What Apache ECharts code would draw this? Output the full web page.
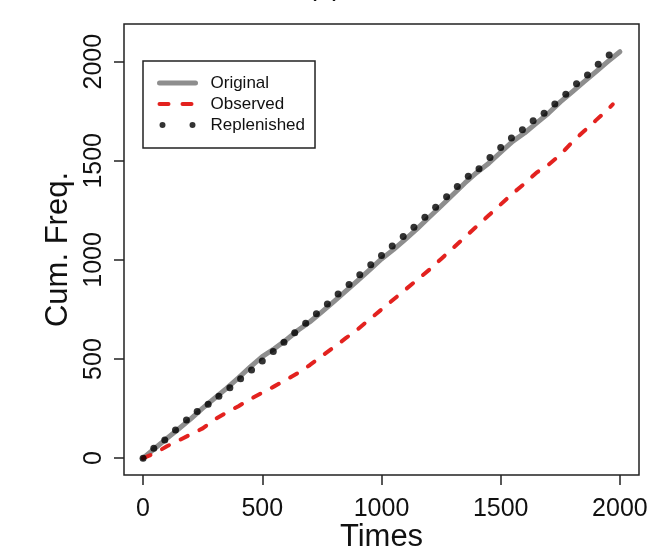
<!DOCTYPE html>
<html>
<head>
<meta charset="utf-8">
<script src="https://cdn.jsdelivr.net/npm/echarts@6/dist/echarts.min.js"></script>
<style>
  html, body { margin: 0; padding: 0; background: #fff; }
  #chart { width: 649px; height: 549px; }
</style>
</head>
<body>
<div id="chart"></div>
<script>
// Cumulative frequency of events over time
const tickValues = [0, 500, 1000, 1500, 2000];

// Original curve, sampled every 50 time units
const originalTimes = [0, 50, 100, 150, 200, 250, 300, 350, 400, 450, 500, 550, 600, 650, 700, 750, 800, 850, 900, 950,
  1000, 1050, 1100, 1150, 1200, 1250, 1300, 1350, 1400, 1450, 1500, 1550, 1600, 1650, 1700, 1750, 1800, 1850, 1900, 1950, 2000];
const originalValues = [0, 50, 100, 148, 198, 252, 302, 352, 405, 460, 512, 552, 596, 645, 688, 738, 790, 842, 895, 950,
  1005, 1052, 1104, 1158, 1215, 1272, 1330, 1388, 1441, 1488, 1543, 1598, 1640, 1690, 1740, 1797, 1848, 1899, 1950, 2001, 2050];

// Observed curve
const observedTimes = [0, 50, 100, 150, 200, 250, 300, 350, 400, 450, 500, 550, 600, 650, 700, 750, 800, 850, 900, 950,
  1000, 1050, 1100, 1150, 1200, 1250, 1300, 1350, 1400, 1450, 1500, 1550, 1600, 1650, 1700, 1750, 1800, 1850, 1900, 1950, 1970];
const observedValues = [0, 25, 60, 90, 120, 150, 195, 230, 262, 298, 330, 362, 395, 430, 470, 515, 560, 605, 650, 700,
  750, 800, 850, 900, 950, 1005, 1060, 1115, 1170, 1225, 1280, 1335, 1385, 1440, 1480, 1530, 1595, 1650, 1705, 1760, 1785];

// Replenished points
const replenishedTimes = [0, 45, 91, 136, 182, 227, 273, 318, 364, 409, 455, 500, 546, 591, 636, 682, 727, 773, 818, 864,
  909, 955, 1000, 1045, 1091, 1136, 1182, 1227, 1273, 1318, 1364, 1409, 1455, 1500, 1545, 1591, 1636, 1682, 1727, 1773,
  1818, 1864, 1909, 1955];
const replenishedValues = [0, 50, 92, 142, 193, 235, 272, 312, 355, 400, 445, 490, 538, 585, 632, 680, 728, 778, 828, 876,
  925, 975, 1022, 1070, 1118, 1165, 1215, 1265, 1318, 1370, 1422, 1460, 1517, 1567, 1615, 1656, 1702, 1740, 1787, 1836,
  1888, 1933, 1987, 2034];

const zip = (xs, ys) => xs.map((x, i) => [x, ys[i]]);
const plain = v => String(v);

const FONT = '"Liberation Sans", Arial, Helvetica, sans-serif';
const GRAY = '#8e8e8e';
const RED = '#e3221f';

const chart = echarts.init(document.getElementById('chart'), null, { renderer: 'canvas' });

chart.setOption({
  animation: false,
  backgroundColor: '#ffffff',
  textStyle: { fontFamily: FONT },
  grid: {
    left: 124, right: 10, top: 24, bottom: 74,
    outerBoundsMode: 'none', containLabel: false,
    show: true, borderColor: '#222', borderWidth: 1.5, backgroundColor: 'transparent'
  },
  graphic: [{
    type: 'text', left: 'center', x: 0, y: -27,
    style: { text: '(a)', font: '28px ' + FONT, fill: '#111', textAlign: 'center' }
  }],
  legend: {
    orient: 'vertical', left: 143, top: 61,
    borderColor: '#222', borderWidth: 1.5,
    padding: [12, 10, 13, 14],
    itemWidth: 36, itemHeight: 14, itemGap: 1,
    textStyle: { fontFamily: FONT, fontSize: 17, color: '#111', lineHeight: 20, padding: [0, 0, 0, 10] },
    data: [
      { name: 'Original', itemStyle: { opacity: 0 }, lineStyle: { width: 5, color: GRAY } },
      { name: 'Observed', itemStyle: { opacity: 0 }, lineStyle: { width: 4, color: RED, type: [9, 14], cap: 'round' } },
      { name: 'Replenished', icon: 'path://M0,3a3,3 0 1,0 6,0a3,3 0 1,0 -6,0ZM30,3a3,3 0 1,0 6,0a3,3 0 1,0 -6,0Z',
        itemStyle: { color: '#000' } }
    ]
  },
  xAxis: {
    type: 'value', min: -80, max: 2080,
    name: 'Times', nameLocation: 'middle', nameGap: 47, nameMoveOverlap: false,
    nameTextStyle: { fontFamily: FONT, fontSize: 31, color: '#111' },
    axisLine: { show: false, onZero: false },
    splitLine: { show: false },
    axisTick: { show: true, inside: false, length: 10, customValues: tickValues, lineStyle: { color: '#222', width: 1.5 } },
    axisLabel: { customValues: tickValues, formatter: plain, fontFamily: FONT, fontSize: 25, color: '#111', margin: 22 }
  },
  yAxis: {
    type: 'value', min: -85, max: 2190,
    name: 'Cum. Freq.', nameLocation: 'middle', nameGap: 50, nameRotate: 90, nameMoveOverlap: false,
    nameTextStyle: { fontFamily: FONT, fontSize: 31, color: '#111' },
    axisLine: { show: false, onZero: false },
    splitLine: { show: false },
    axisTick: { show: true, inside: false, length: 10, customValues: tickValues, lineStyle: { color: '#222', width: 1.5 } },
    axisLabel: { customValues: tickValues, formatter: plain, rotate: 90, fontFamily: FONT, fontSize: 25, color: '#111', margin: 17 }
  },
  series: [
    {
      name: 'Original', type: 'line', symbol: 'none', z: 2,
      data: zip(originalTimes, originalValues),
      lineStyle: { color: GRAY, width: 5, cap: 'round', join: 'round' },
      itemStyle: { color: GRAY }
    },
    {
      name: 'Observed', type: 'line', symbol: 'none', z: 3,
      data: zip(observedTimes, observedValues),
      lineStyle: { color: RED, width: 4, type: [8, 13], cap: 'round', join: 'round' },
      itemStyle: { color: RED }
    },
    {
      name: 'Replenished', type: 'scatter', symbol: 'circle', symbolSize: 7, z: 4,
      data: zip(replenishedTimes, replenishedValues),
      itemStyle: { color: '#000' }
    }
  ]
});
</script>
</body>
</html>
